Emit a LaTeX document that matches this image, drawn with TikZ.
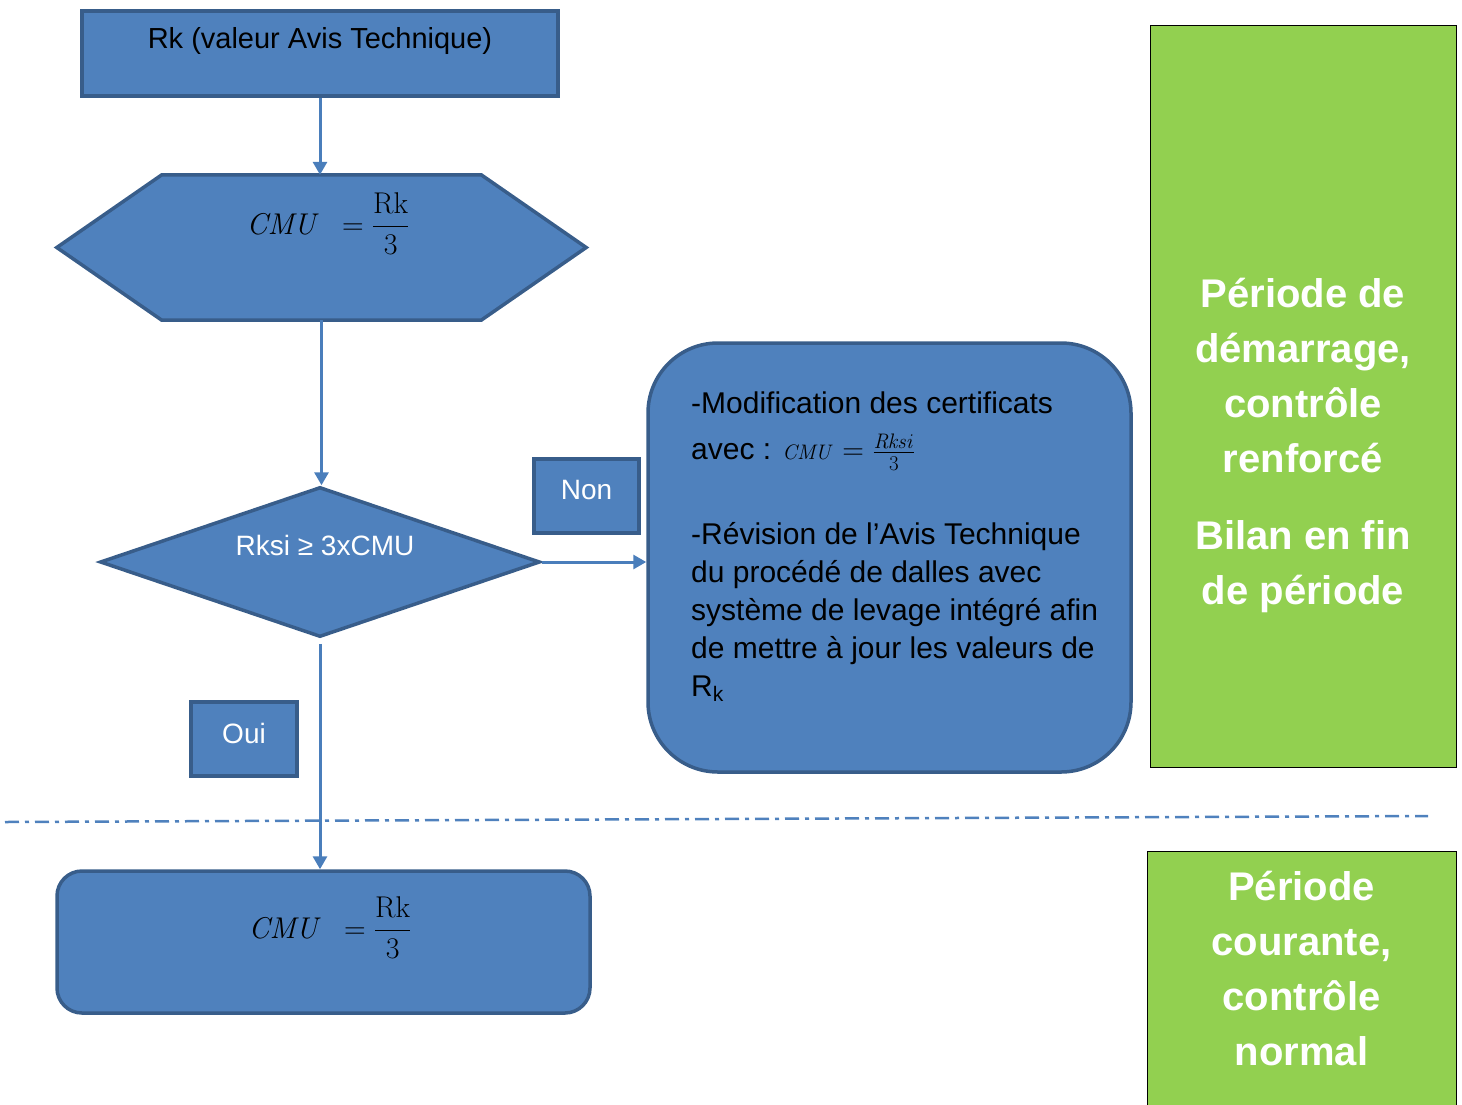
\RequirePackage{fix-cm}
\documentclass[tikz,border=0pt]{standalone}
\usepackage{amsmath}
\usepackage[no-math]{fontspec}
\setmainfont{Liberation Sans}
\usetikzlibrary{arrows.meta,shapes.geometric}

\definecolor{boxblue}{HTML}{4F81BD}
\definecolor{boxedge}{HTML}{385D8A}
\definecolor{linkblue}{HTML}{4A7EBB}
\definecolor{periodgreen}{HTML}{92D050}

\tikzset{
    bluebox/.style={draw=boxedge, fill=boxblue, line width=3.5pt, inner sep=0pt},
    flow/.style={draw=linkblue, line width=3pt, -{Triangle[width=14pt,length=13pt]}},
    txt/.style={font=\fontsize{29}{38}\selectfont, inner sep=0pt},
    wtxt/.style={font=\fontsize{28}{38}\selectfont, inner sep=0pt, text=white},
    period/.style={draw=black, line width=1pt, fill=periodgreen, inner sep=0pt},
    ptxt/.style={font=\fontsize{40}{55}\selectfont\bfseries, text=white, align=center, inner sep=0pt},
    sepline/.style={draw=boxblue, line width=2.5pt, dash pattern=on 14pt off 6pt on 4pt off 6pt},
}

\begin{document}
\begin{tikzpicture}[x=1pt, y=-1pt]

        \useasboundingbox (0,0) rectangle (1462,1104);

        % Start value
        \node[bluebox, minimum width=476, minimum height=85] (rk) at (320,53.5) {};
        \node[txt] (rktext) at (320,41) {Rk (valeur Avis Technique)};

        % Hexagon CMU = Rk/3
        \node[minimum width=529, minimum height=145, inner sep=0pt] (cmu1) at (321.5,247.5) {};
        \draw[bluebox] (cmu1.west) -- ([xshift=105pt]cmu1.north west) -- ([xshift=-105pt]cmu1.north east)
            -- (cmu1.east) -- ([xshift=-105pt]cmu1.south east) -- ([xshift=105pt]cmu1.south west) -- cycle;
        \node[inner sep=0pt, font=\fontsize{30}{36}\selectfont] (cmu1text) at (328,224)
            {$\mathit{CMU}\ \,=\dfrac{\mathrm{Rk}}{3}$};

        % Test
        \node[bluebox, diamond, minimum width=440, minimum height=150] (test) at (320,562) {};
        \node[wtxt] (testtext) at (325,545) {Rksi ≥ 3xCMU};

        % Non branch
        \node[bluebox, minimum width=483, minimum height=429, rounded corners=70pt] (modif) at (889.5,557.5) {};
        \node[txt, font=\fontsize{30}{38}\selectfont, anchor=north west, align=left] (modiftext) at (691,392)
            {-Modification des certificats\\[8pt]
             avec : {\fontsize{21}{24}\selectfont$\mathit{CMU}$} $=\frac{\mathit{Rksi}}{3}$\\[47pt]
             -Révision de l’Avis Technique\\
             du procédé de dalles avec\\
             système de levage intégré afin\\
             de mettre à jour les valeurs de\\
             R\textsubscript{k}};
        \node[bluebox, minimum width=105, minimum height=74] (non) at (586.5,496) {};
        \node[wtxt] (nontext) at (586.5,490) {Non};

        % Oui branch
        \node[bluebox, minimum width=106, minimum height=74] (oui) at (244,739) {};
        \node[wtxt] (ouitext) at (244,733) {Oui};
        \node[bluebox, minimum width=533, minimum height=142, rounded corners=25pt] (cmu2) at (323.5,942) {};
        \node[inner sep=0pt, font=\fontsize{30}{36}\selectfont] (cmu2text) at (330,928)
            {$\mathit{CMU}\ \,=\dfrac{\mathrm{Rk}}{3}$};

        % Separation of the two periods
        \coordinate (sepL) at (5,822);
        \coordinate (sepR) at (1428,816);
        \draw[sepline] (sepL) -- (sepR);

        % Connectors
        \draw[flow] (rk.south) -- (rk.south |- cmu1.north);
        \draw[flow] (cmu1.south) -- (cmu1.south |- test.north);
        \draw[flow] (test.east) -- (test.east -| modif.west);
        \draw[flow, shorten <=5pt] (test.south) -- (test.south |- cmu2.north);

        % Periods
        \node[period, minimum width=306, minimum height=742] (start) at (1303,396) {};
        \node[ptxt, anchor=north] (starttext) at (1303,278)
            {Période de\\démarrage,\\contrôle\\renforcé\\[22pt]Bilan en fin\\de période};
        \node[period, minimum width=309, minimum height=265] (normal) at (1301.5,983.5) {};
        \node[ptxt, anchor=north] (normaltext) at (1301.5,871)
            {Période\\courante,\\contrôle\\normal};

\end{tikzpicture}
\end{document}
